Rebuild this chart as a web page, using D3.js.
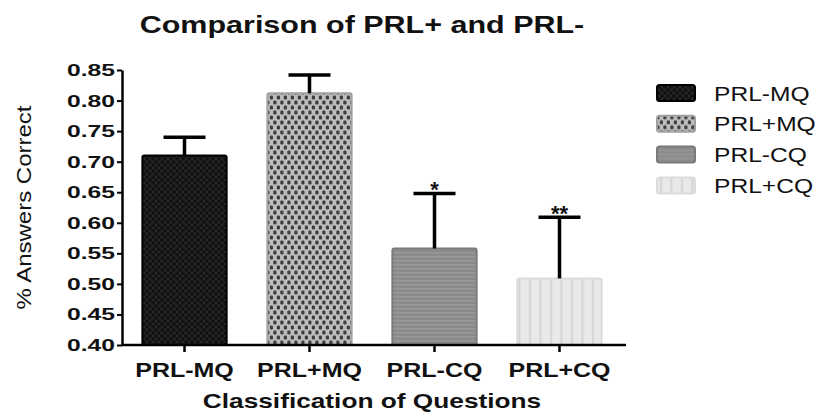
<!DOCTYPE html>
<html>
<head>
<meta charset="utf-8">
<script src="https://cdn.jsdelivr.net/npm/d3@7"></script>
<style>
  body { margin: 0; background: #fff; }
  text { font-family: "Liberation Sans", Arial, sans-serif; fill: #111; }
</style>
</head>
<body>
<svg width="820" height="416"></svg>
<script>
const categories = ["PRL-MQ", "PRL+MQ", "PRL-CQ", "PRL+CQ"];
const means = [0.71, 0.812, 0.558, 0.509];
const errors = [0.03, 0.03, 0.09, 0.10];
const stars = ["", "", "*", "**"];
const yTicks = [0.40, 0.45, 0.50, 0.55, 0.60, 0.65, 0.70, 0.75, 0.80, 0.85];

const svg = d3.select("svg");
const margin = { left: 122, top: 70, bottom: 345 };

const x = d3.scaleBand()
  .domain(categories)
  .range([margin.left, 622])
  .paddingInner(0.31)
  .paddingOuter(0.155);

const y = d3.scaleLinear().domain([0.40, 0.85]).range([margin.bottom, margin.top]);

// the source picture is stretched sideways, so widen the text to match
function widen(sel, k) {
  sel.each(function () {
    const len = this.getComputedTextLength();
    d3.select(this).attr("textLength", len * k).attr("lengthAdjust", "spacingAndGlyphs");
  });
}

// fill patterns
const defs = svg.append("defs");

const p1 = defs.append("pattern").attr("id", "pat0").attr("patternUnits", "userSpaceOnUse")
  .attr("width", 6).attr("height", 6);
p1.append("rect").attr("width", 6).attr("height", 6).attr("fill", "#121212");
p1.append("path").attr("d", "M0,3 L3,0 L6,3 L3,6 Z").attr("fill", "none").attr("stroke", "#2a2a2a").attr("stroke-width", 1);

const p2 = defs.append("pattern").attr("id", "pat1").attr("patternUnits", "userSpaceOnUse")
  .attr("width", 7).attr("height", 10);
p2.append("rect").attr("width", 7).attr("height", 10).attr("fill", "#bdbdbd");
p2.append("rect").attr("x", 0.3).attr("y", 0.5).attr("width", 3.2).attr("height", 4).attr("rx", 1.2).attr("fill", "#3e3e3e");
p2.append("rect").attr("x", 3.8).attr("y", 5.5).attr("width", 3.2).attr("height", 4).attr("rx", 1.2).attr("fill", "#3e3e3e");

const p3 = defs.append("pattern").attr("id", "pat2").attr("patternUnits", "userSpaceOnUse")
  .attr("width", 4).attr("height", 4);
p3.append("rect").attr("width", 4).attr("height", 4).attr("fill", "#8a8a8a");
p3.append("rect").attr("width", 4).attr("height", 1.5).attr("fill", "#989898");

const p4 = defs.append("pattern").attr("id", "pat3").attr("patternUnits", "userSpaceOnUse")
  .attr("width", 10.5).attr("height", 10);
p4.append("rect").attr("width", 10.5).attr("height", 10).attr("fill", "#e9e9e9");
p4.append("rect").attr("x", 4).attr("width", 2).attr("height", 10).attr("fill", "#d4d4d4");

const strokes = ["#000", "#a0a0a0", "#7a7a7a", "#dcdcdc"];

// title
svg.append("text")
  .attr("x", 362).attr("y", 33)
  .attr("text-anchor", "middle")
  .style("font-size", "24px").style("font-weight", "bold")
  .text("Comparison of PRL+ and PRL-")
  .call(widen, 1.27);

// bars
svg.append("g").selectAll("rect")
  .data(categories)
  .join("rect")
  .attr("x", d => x(d) + 1)
  .attr("y", (d, i) => y(means[i]))
  .attr("width", x.bandwidth() - 2)
  .attr("height", (d, i) => y(0.40) - y(means[i]))
  .attr("rx", 2)
  .attr("fill", (d, i) => "url(#pat" + i + ")")
  .attr("stroke", (d, i) => strokes[i])
  .attr("stroke-width", 2);

// error bars
const eb = svg.append("g").attr("stroke", "#000").attr("stroke-width", 3.5);
categories.forEach((d, i) => {
  const cx = x(d) + x.bandwidth() / 2;
  const top = y(means[i] + errors[i]);
  eb.append("line").attr("x1", cx).attr("x2", cx).attr("y1", y(means[i])).attr("y2", top);
  eb.append("line").attr("x1", cx - 21).attr("x2", cx + 21).attr("y1", top).attr("y2", top);
  if (stars[i]) {
    svg.append("text")
      .attr("x", cx).attr("y", top + 8)
      .attr("text-anchor", "middle")
      .style("font-size", "22px").style("font-weight", "bold")
      .text(stars[i])
      .attr("dy", "-0.2em");
  }
});

// y axis
const yAxis = svg.append("g")
  .attr("transform", "translate(" + margin.left + ",0)")
  .call(d3.axisLeft(y).tickValues(yTicks).tickFormat(d3.format(".2f")).tickSize(5).tickSizeOuter(0));
yAxis.select(".domain").attr("stroke-width", 2.5);
yAxis.selectAll(".tick line").attr("stroke-width", 2);
yAxis.selectAll(".tick text")
  .attr("x", -7)
  .style("font-size", "17px").style("font-weight", "bold").attr("fill", "#111")
  .call(widen, 1.45);

// x axis
const xAxis = svg.append("g")
  .attr("transform", "translate(0," + margin.bottom + ")")
  .call(d3.axisBottom(x).tickSize(7).tickSizeOuter(0));
xAxis.select(".domain").attr("d", "M" + margin.left + ",0H626").attr("stroke-width", 2.5);
xAxis.selectAll(".tick line").attr("stroke-width", 2.5);
xAxis.selectAll(".tick text")
  .attr("y", 0).attr("dy", 0)
  .attr("transform", "translate(0,32)")
  .style("font-size", "20px").style("font-weight", "bold").attr("fill", "#111")
  .call(widen, 1.25);

// axis titles
svg.append("text")
  .attr("transform", "translate(31," + y(0.625) + ") rotate(-90)")
  .attr("text-anchor", "middle")
  .style("font-size", "20px")
  .text("% Answers Correct")
  .call(widen, 1.2);

svg.append("text")
  .attr("x", 372).attr("y", 408)
  .attr("text-anchor", "middle")
  .style("font-size", "21px").style("font-weight", "bold")
  .text("Classification of Questions")
  .call(widen, 1.25);

// legend
const legend = svg.append("g").attr("transform", "translate(656,84)");
const lg = legend.selectAll("g").data(categories).join("g")
  .attr("transform", (d, i) => "translate(0," + i * 30.8 + ")");
lg.append("rect")
  .attr("x", 1).attr("y", 1)
  .attr("width", 38).attr("height", 16).attr("rx", 2.5)
  .attr("fill", (d, i) => "url(#pat" + i + ")")
  .attr("stroke", (d, i) => strokes[i]).attr("stroke-width", 2);
lg.append("text")
  .attr("x", 58).attr("y", 16.5)
  .style("font-size", "21px")
  .text(d => d)
  .call(widen, 1.17);
</script>
</body>
</html>
